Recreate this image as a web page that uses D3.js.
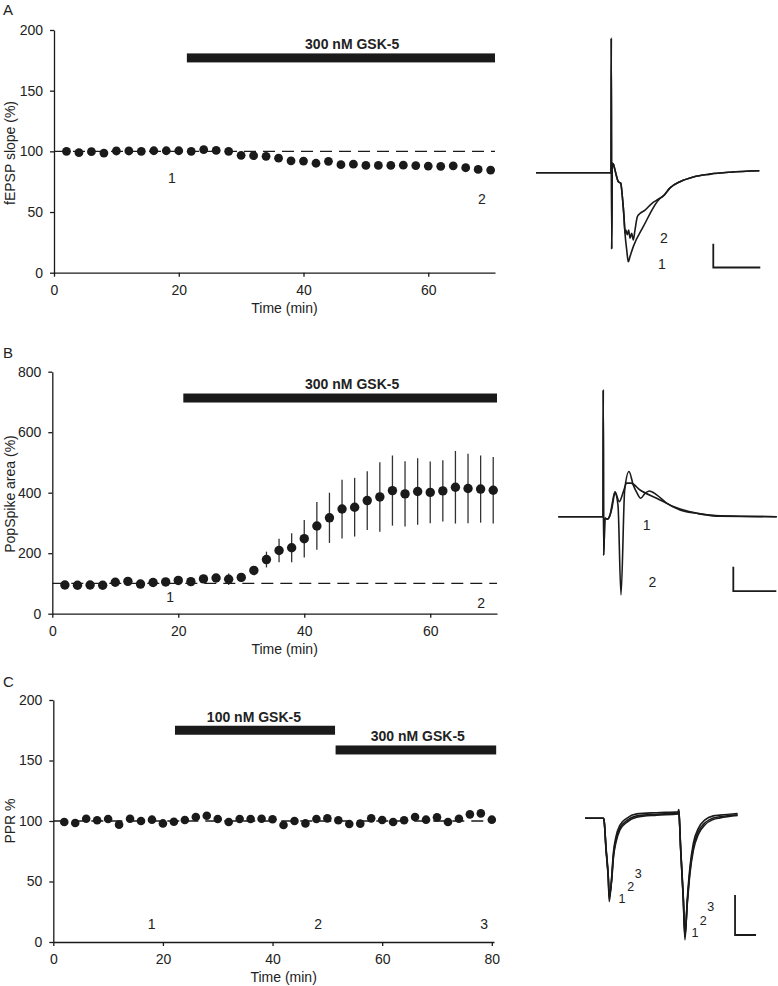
<!DOCTYPE html>
<html><head><meta charset="utf-8">
<script src="https://cdn.jsdelivr.net/npm/d3@7"></script>
<style>body{margin:0;background:#fff} svg{display:block;font-family:Arial,"Liberation Sans",sans-serif}</style>
</head><body><svg id="c" width="778" height="986"></svg>
<script>
// ---------- time-course data ----------
const timeA = [2,4,6,8,10,12,14,16,18,20,22,24,26,28,30,32,34,36,38,40,42,44,46,48,50,52,54,56,58,60,62,64,66,68,70];
const fepspA = [100,98.9,99.7,98.6,100.3,100.3,100,100.5,100.5,100.5,100,101.4,100.8,100,96.7,96.4,95.9,94.4,92.2,92,90.2,91.8,89,89.4,88.4,88.4,88.4,88.6,88.3,87.9,87.7,88.1,86.5,85.1,84.6];

const timeB = [2,4,6,8,10,12,14,16,18,20,22,24,26,28,30,32,34,36,38,40,42,44,46,48,50,52,54,56,58,60,62,64,66,68,70];
const popSpikeB = [95,94,95,94,104,107,98,103,105,110,106,115,118,114,120,143,179,209,218,248,290,317,346,352,374,386,407,396,404,401,406,418,414,412,408];
const popSpikeErrB = [4,4,5,4,6,6,5,6,6,7,6,8,9,19,14,10,26,39,48,62,79,83,97,97,97,115,116,108,110,102,101,120,115,111,110];

const timeC = [2,4,6,8,10,12,14,16,18,20,22,24,26,28,30,32,34,36,38,40,42,44,46,48,50,52,54,56,58,60,62,64,66,68,70,72,74,76,78,80];
const pprC = [99.2,98.3,101.9,100.6,101.7,97,101.9,100,101.1,98,99.4,100.8,103.3,104.4,101.7,99.2,101.7,101.7,101.9,101.4,96.7,100,98,101.7,102.2,100.6,97.5,97.8,102.2,100.8,99.2,100.6,103.3,101.1,103,99.2,101.9,105.5,106.3,101.1];

// drug application bars: [start min, end min, level, label, label x (min)]
const barsA = [[21.3, 70.7, 177, "300 nM GSK-5", 47.8]];
const barsB = [[20.8, 70.6, 713, "300 nM GSK-5", 47.6]];
const barsC = [[22.2, 51.4, 175, "100 nM GSK-5", 36.6], [51.5, 80.8, 158.7, "300 nM GSK-5", 66.5]];

// sample-point markers: [label, time, level]
const marksA = [["1", 18.9, 78], ["2", 68.6, 61]];
const marksB = [["1", 18.7, 55], ["2", 68.1, 35]];
const marksC = [["1", 17.95, 15], ["2", 48.3, 15], ["3", 78.6, 15]];

const ticksXA = [0,20,40,60], ticksYA = [0,50,100,150,200];
const ticksXB = [0,20,40,60], ticksYB = [0,200,400,600,800];
const ticksXC = [0,20,40,60,80], ticksYC = [0,50,100,150,200];

// ---------- sample traces (ms, mV / pA) ----------
const trA_pre = [[0,0],[7.98,0],[8.01,2.84],[8.05,-1.61],[8.12,0.20],[8.27,0.16],[8.40,0.06],[8.56,-0.07],[8.76,-0.19],[9.01,-0.22],[9.22,-0.58],[9.36,-0.93],[9.47,-1.28]];
const trA_1 = [[9.65,-1.63],[9.82,-1.88],[10.0,-1.77],[10.35,-1.56],[11.41,-1.14],[13.19,-0.54],[13.55,-0.49]];
const trA_2 = [[9.57,-1.21],[9.71,-1.31],[9.86,-1.21],[10.0,-1.38],[10.18,-1.28],[10.35,-1.42],[10.53,-1.21],[10.78,-0.93],[11.06,-0.86],[11.6,-0.79],[12.31,-0.65],[13.01,-0.56],[13.55,-0.49]];
const trA_tail = [[14.26,-0.32],[15.32,-0.19],[16.74,-0.09],[18.51,-0.03],[20.64,0.01],[23.76,0.04]];
const trA_labels = [["2",13.6,-1.38],["1",13.4,-1.93]];
const scaleBarA = [18.86, -2.0, 5, 0.5];

const trB_pre = [[0,0],[5.2,0],[5.23,2.61],[5.27,-0.79],[5.43,-0.03],[5.70,-0.05],[6.01,0.03]];
const trB_1 = [[6.24,0.24],[6.59,0.51],[7.09,0.31],[7.56,0.51],[7.95,0.69],[8.45,0.69],[9.5,0.55],[11.44,0.38],[13.37,0.21],[15.31,0.10],[17.64,0.03],[25.4,0]];
const trB_2 = [[6.24,0.18],[6.59,0.49],[6.94,0.24],[7.29,-1.61],[7.72,0.55],[8.22,0.93],[8.72,0.65],[9.15,0.49],[9.58,0.38],[10.08,0.48],[10.58,0.53],[11.44,0.45],[12.6,0.28],[14.15,0.14],[16.09,0.07],[18.8,0.01],[25.4,0]];
const trB_labels = [["1",10.28,-0.17],["2",10.93,-1.34]];
const scaleBarB = [20.35, -1.53, 5, 0.5];

const trC_t  = [0,17.4,18.1,20,22.2,23.1,25.4,27,29.5,33.3,39.7,49.2,68.3,88.6,89.3,89.6,91.1,93.6,95.2,97.4,100,103.2,108,114.3,122.2,128.6,145.4];
const trC_1 = [0,0,-4,-79,-154,-208,-146,-87,-46,-17,0,11,14,16,22,14,-79,-204,-304,-204,-121,-62,-25,-4,6,8,12];
const trC_2 = [0,0,-4,-75,-150,-200,-152,-95,-54,-24,-6,6,10,13,18,11,-76,-200,-296,-210,-130,-72,-33,-11,1,4,9];
const trC_3 = [0,0,-4,-72,-145,-192,-156,-100,-60,-29,-10,3,8,11,16,9,-73,-196,-288,-214,-137,-80,-40,-16,-3,1,7];
const trC_labels = [["1",35.2,-202],["2",43.5,-172],["3",50.8,-139],["1",104.8,-287],["2",112.7,-256],["3",119.7,-221]];
const scaleBarC = [142.9, -291.75, 20, 100];

// ---------- drawing ----------
const svg = d3.select("#c");
const INK = "#1a1a1a", TXT = "#222";

function panel(o){
  const x = d3.scaleLinear().domain(o.xd).range(o.xr);
  const y = d3.scaleLinear().domain(o.yd).range(o.yr);
  const g = svg.append("g");
  g.append("line").attr("x1", x(0)).attr("x2", x(o.xd[1])).attr("y1", y(100)).attr("y2", y(100))
    .attr("stroke", INK).attr("stroke-width", 1.3).attr("stroke-dasharray", "12,7");
  const ax = g.append("g").attr("transform", `translate(0,${o.yr[0]})`)
    .call(d3.axisBottom(x).tickValues(o.xt).tickSize(4).tickPadding(8).tickSizeOuter(0));
  const ay = g.append("g").attr("transform", `translate(${o.xr[0]},0)`)
    .call(d3.axisLeft(y).tickValues(o.yt).tickSize(4).tickPadding(7).tickSizeOuter(0));
  [ax, ay].forEach(a => {
    a.selectAll("path,line").attr("stroke", INK).attr("stroke-width", 1.3);
    a.selectAll("text").attr("font-size", 14).attr("fill", TXT).attr("font-family", "Arial, 'Liberation Sans', sans-serif");
  });
  g.append("text").attr("x", (x(0) + x(o.xd[1])) / 2 + 10).attr("y", o.yr[0] + 35).attr("dy", "0.35em")
    .attr("text-anchor", "middle").attr("font-size", 14).attr("fill", TXT).text("Time (min)");
  g.append("text").attr("transform", `translate(10,${o.ylabY}) rotate(-90)`).attr("dy", "0.35em")
    .attr("text-anchor", "middle").attr("font-size", 14).attr("fill", TXT).text(o.ylab);
  g.append("text").attr("x", 3).attr("y", o.letterY).attr("dy", "0.35em").attr("font-size", 15).attr("fill", TXT).text(o.letter);
  o.bars.forEach(b => {
    g.append("rect").attr("x", x(b[0])).attr("width", x(b[1]) - x(b[0]))
      .attr("y", y(b[2]) - 4.5).attr("height", 9).attr("fill", INK);
    g.append("text").attr("x", x(b[4])).attr("y", y(b[2]) - 13.5).attr("dy", "0.35em").attr("text-anchor", "middle")
      .attr("font-size", 14).attr("font-weight", "bold").attr("fill", TXT).text(b[3]);
  });
  if (o.err) {
    g.selectAll(".err").data(o.t).enter().append("line")
      .attr("x1", d => x(d)).attr("x2", d => x(d))
      .attr("y1", (d, i) => y(o.v[i] - o.err[i])).attr("y2", (d, i) => y(o.v[i] + o.err[i]))
      .attr("stroke", "#333").attr("stroke-width", 1.3);
  }
  g.selectAll(".pt").data(o.t).enter().append("circle")
    .attr("cx", d => x(d)).attr("cy", (d, i) => y(o.v[i])).attr("r", o.r).attr("fill", INK);
  o.marks.forEach(m => {
    g.append("text").attr("x", x(m[1])).attr("y", y(m[2])).attr("dy", "0.35em").attr("text-anchor", "middle")
      .attr("font-size", 14).attr("fill", TXT).text(m[0]);
  });
}

panel({xd:[0,70.7], xr:[54,495], yd:[0,200], yr:[272.7,30], xt:ticksXA, yt:ticksYA,
  t:timeA, v:fepspA, r:4.4, bars:barsA, marks:marksA, ylab:"fEPSP  slope (%)", ylabY:153, letter:"A", letterY:10});
panel({xd:[0,70.6], xr:[52.3,497], yd:[0,800], yr:[613.7,371.7], xt:ticksXB, yt:ticksYB,
  t:timeB, v:popSpikeB, err:popSpikeErrB, r:4.7, bars:barsB, marks:marksB, ylab:"PopSpike  area (%)", ylabY:494, letter:"B", letterY:353});
panel({xd:[0,80.4], xr:[53.3,494], yd:[0,200], yr:[942,700], xt:ticksXC, yt:ticksYC,
  t:timeC, v:pprC, r:4.3, bars:barsC, marks:marksC, ylab:"PPR %", ylabY:821, letter:"C", letterY:682});

function traceBox(o){
  const x = d3.scaleLinear().domain([0,1]).range([o.x0, o.x0 + o.pxX]);
  const y = d3.scaleLinear().domain([0,1]).range([o.y0, o.y0 - o.pxY]);
  const line = d3.line().x(d => x(d[0])).y(d => y(d[1])).curve(d3.curveMonotoneX);
  const g = svg.append("g");
  o.traces.forEach(tr => g.append("path").attr("d", line(tr)).attr("fill", "none")
    .attr("stroke", INK).attr("stroke-width", o.sw).attr("stroke-linejoin", "round"));
  const s = o.bar;
  g.append("path").attr("d", `M${x(s[0])},${y(s[1] + s[3])}V${y(s[1])}H${x(s[0] + s[2])}`)
    .attr("fill", "none").attr("stroke", INK).attr("stroke-width", 1.8);
  o.labels.forEach(l => g.append("text").attr("x", x(l[1])).attr("y", y(l[2])).attr("dy", "0.35em")
    .attr("text-anchor", "middle").attr("font-size", o.fs).attr("fill", TXT).text(l[0]));
}

traceBox({x0:536, pxX:9.4, y0:172.7, pxY:47.4, sw:1.6, fs:14,
  traces:[trA_pre.concat(trA_1, trA_tail), trA_pre.concat(trA_2, trA_tail)], bar:scaleBarA, labels:trA_labels});
traceBox({x0:558.3, pxX:8.6, y0:516.7, pxY:48.6, sw:1.6, fs:14,
  traces:[trB_pre.concat(trB_1), trB_pre.concat(trB_2)], bar:scaleBarB, labels:trB_labels});
traceBox({x0:585, pxX:1.05, y0:818.3, pxY:0.4, sw:1.6, fs:12.5,
  traces:[trC_1, trC_2, trC_3].map(v => trC_t.map((t, i) => [t, v[i]])), bar:scaleBarC, labels:trC_labels});
</script></body></html>
